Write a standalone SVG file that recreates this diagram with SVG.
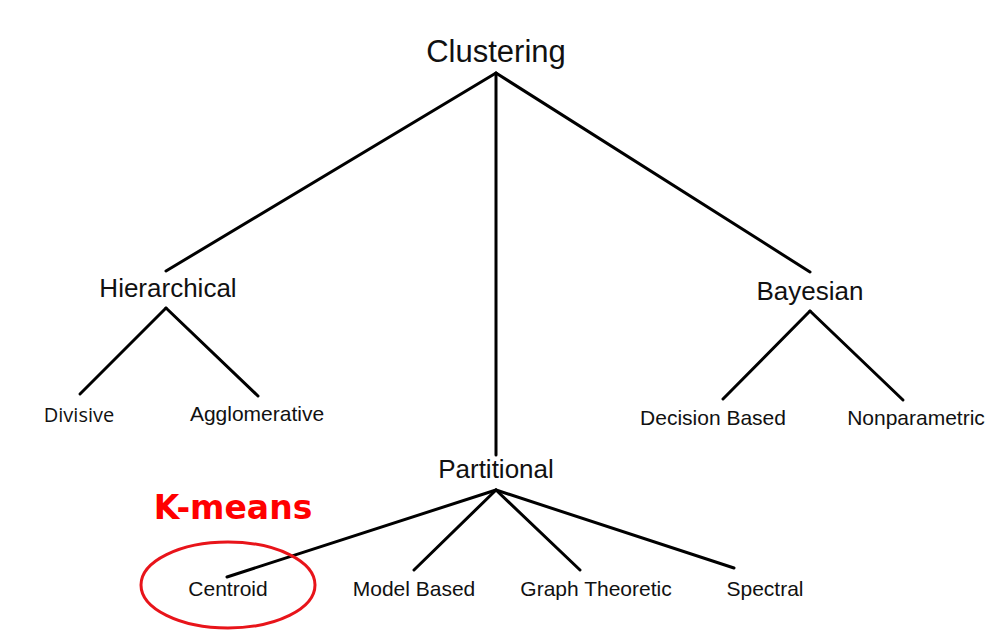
<svg xmlns="http://www.w3.org/2000/svg" width="1006" height="642" viewBox="0 0 1006 642">
<style>
.c{stroke:#000;stroke-width:3;fill:none;stroke-linecap:round}
.t{font-family:"Liberation Sans",Arial,sans-serif;fill:#111;text-anchor:middle}
.big{font-size:31px}
.mid{font-size:26px}
.sm{font-size:21px}
</style>
<rect width="1006" height="642" fill="#fff"/>
<g id="connectors">
<line class="c" x1="496" y1="73" x2="166" y2="271"/>
<line class="c" x1="496" y1="73" x2="496" y2="455"/>
<line class="c" x1="496" y1="73" x2="810" y2="272"/>
<line class="c" x1="166" y1="308" x2="80" y2="394"/>
<line class="c" x1="166" y1="308" x2="258" y2="396"/>
<line class="c" x1="810" y1="311" x2="723" y2="399"/>
<line class="c" x1="810" y1="311" x2="903" y2="400"/>
<line class="c" x1="496" y1="490" x2="227" y2="577"/>
<line class="c" x1="496" y1="490" x2="414" y2="570"/>
<line class="c" x1="496" y1="490" x2="580" y2="570"/>
<line class="c" x1="496" y1="490" x2="734" y2="568"/>
</g>
<g id="clustering"><text class="t big" x="496" y="62">Clustering</text></g>
<g id="hierarchical"><text class="t mid" x="168" y="297">Hierarchical</text></g>
<g id="bayesian"><text class="t mid" x="810" y="300">Bayesian</text></g>
<g id="partitional"><text class="t mid" x="496" y="478">Partitional</text></g>
<g id="divisive"><text x="79" y="422" style="font-family:'Open Sans','Noto Sans',sans-serif;font-size:20px;fill:#111;text-anchor:middle">Divisive</text></g>
<g id="agglomerative"><text class="t sm" x="257" y="421">Agglomerative</text></g>
<g id="decision"><text class="t sm" x="713" y="425">Decision Based</text></g>
<g id="nonparametric"><text class="t sm" x="916" y="425">Nonparametric</text></g>
<g id="centroid"><text class="t sm" x="228" y="596">Centroid</text>
<ellipse cx="228" cy="585" rx="87" ry="43" fill="none" stroke="#e8141a" stroke-width="3"/></g>
<g id="modelbased"><text class="t sm" x="414" y="596">Model Based</text></g>
<g id="graph"><text class="t sm" x="596" y="596">Graph Theoretic</text></g>
<g id="spectral"><text class="t sm" x="765" y="596">Spectral</text></g>
<g id="kmeans"><text x="233" y="519" style="font-family:'Comic Sans MS','DejaVu Sans',sans-serif;font-weight:bold;font-size:33px;fill:#ff0000;text-anchor:middle">K-means</text></g>
</svg>
